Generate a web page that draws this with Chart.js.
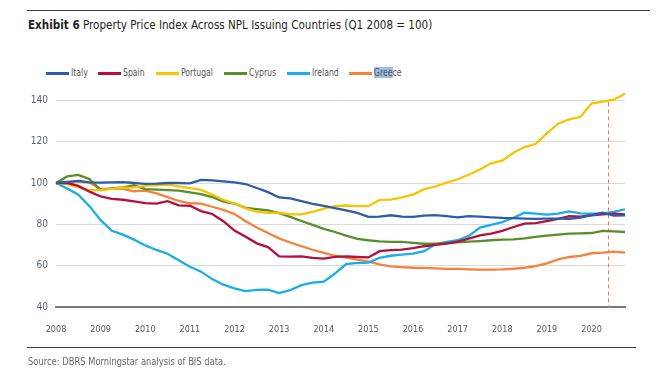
<!DOCTYPE html>
<html><head><meta charset="utf-8">
<script src="https://cdn.jsdelivr.net/npm/chart.js@4.4.1/dist/chart.umd.min.js"></script>
<style>
html,body{margin:0;padding:0;background:#fff;}
body{width:662px;height:382px;position:relative;overflow:hidden;font-family:"Liberation Sans Narrow","DejaVu Sans Condensed","Arial Narrow",sans-serif;}
.rule{position:absolute;height:0;border-top:1.5px solid #3a3a3a;}
#title{position:absolute;left:28px;top:17px;font-size:13px;color:#231f20;white-space:nowrap;transform:scaleX(0.89);transform-origin:0 50%;}
#title b{font-weight:bold;}
#legend{position:absolute;left:0;top:66px;width:662px;height:14px;font-size:10px;color:#555;white-space:nowrap;}
.item{position:absolute;top:0;height:14px;}
.swatch{position:absolute;left:0;top:6px;width:23px;height:2.5px;}
.ltxt{position:absolute;left:25px;top:0;line-height:14px;transform:scaleX(0.86);transform-origin:0 50%;}
.hl{background:#9dbde3;}
#source{position:absolute;left:28px;top:356px;font-size:10px;color:#666;white-space:nowrap;transform:scaleX(0.93);transform-origin:0 50%;}
#wrap{position:absolute;left:0;top:0;width:662px;height:382px;}
</style></head>
<body>
<div class="rule" style="left:27px;width:623px;top:10px;"></div>
<div id="title"><b>Exhibit 6</b> Property Price Index Across NPL Issuing Countries (Q1 2008 = 100)</div>
<div id="legend"></div>
<div id="wrap"><canvas id="c" width="662" height="382"></canvas></div>
<div class="rule" style="left:27px;width:609px;top:347px;"></div>
<div id="source">Source: DBRS Morningstar analysis of BIS data.</div>
<script>
// ---- data ----
const years = [2008,2009,2010,2011,2012,2013,2014,2015,2016,2017,2018,2019,2020];
const quarters = [];
years.forEach(y => ['Q1','Q2','Q3','Q4'].forEach(q => quarters.push(y + q)));

const seriesNames = ['Italy','Spain','Portugal','Cyprus','Ireland','Greece'];
const seriesColors = ['#2f5ba8','#b3103f','#f6c500','#5a8c2b','#19ade9','#f5823a'];

const italy = [100,100.5,101,100.3,100.2,100.3,100.4,100,99.6,99.7,100,100,99.8,101.5,101.3,100.8,
  100.3,99.5,97.6,95.6,93,92.6,91.2,89.9,88.9,87.9,86.8,85.5,83.6,83.7,84.4,83.7,
  83.6,84.2,84.5,84,83.4,84,83.7,83.4,83.1,83,82.8,82.6,82.8,82.8,82.7,83.2,84.5,85.6,84.2,84.3];
const spain = [100,100,98.6,95.8,93.5,92.3,91.9,91.1,90.3,90,91.2,89.2,89,86.4,85,81.5,
  77,74,70.8,69,64.5,64.4,64.5,63.8,63.4,64.3,64.5,64.2,64,67,67.5,67.8,
  68.5,69.4,70.1,70.7,71.6,73.1,74.7,75.5,76.8,78.7,80.3,80.6,81.6,82.7,84,83.7,84.4,84.8,85.2,84.8];
const portugal = [100,99.5,97.9,96.6,96.6,97.2,97.7,97.9,98.6,99,99.2,98.4,97.5,96.7,94.4,91.8,
  90.1,87.7,86.2,85.5,85.6,84.8,84.8,86,87.6,88.8,89.1,88.8,88.8,91.8,92,93,
  94.4,97,98.3,100.2,101.8,104,106.5,109.5,110.8,114.6,117.4,119,124,128.7,130.8,131.9,138.4,139.4,140.3,143.2];
const cyprus = [100,103.2,103.9,101.9,96.6,97.4,97.9,98.9,97,96.8,96.6,96.3,95.5,94.6,93.2,91,
  90,88,87.4,86.8,85.4,83.6,81.6,79.7,77.8,76.3,74.5,73,72.3,71.8,71.5,71.5,
  71,70.6,70.6,70.9,71.3,71.6,71.9,72.3,72.6,72.7,73.2,73.9,74.5,75,75.5,75.6,75.8,76.8,76.6,76.3];
const ireland = [100,97.3,94.3,88.8,82,76.9,75,72.6,69.8,67.6,65.8,62.6,59.5,57.1,53.5,50.8,
  49,47.7,48.3,48.4,46.7,48.2,50.6,51.8,52.3,56.2,60.7,61.3,61.5,63.8,64.8,65.3,
  65.8,67,70.3,71.5,72.3,74.4,78.4,79.7,81.1,83.2,85.6,85.2,84.7,85.2,86.3,85.3,85.2,85.2,86,87.3];
const greece = [100,100.3,100.8,100.2,97,97.3,97.2,96,96.3,95,93.2,91.3,90.2,90,88.5,87,
  85,81.5,78.5,75.8,73.2,71.2,69.4,67.7,66.2,64.8,63.9,62.9,61.9,60.6,59.7,59.3,
  59,58.9,58.7,58.4,58.4,58.2,58.1,58.1,58.2,58.5,59,59.8,61.1,63,64.2,64.7,66,66.3,66.8,66.3];
const seriesValues = [italy, spain, portugal, cyprus, ireland, greece];

const yTicks = [40,60,80,100,120,140];
const markerQuarter = [49.5];      // dashed marker position (quarter index)
const markerRange = [40, 139];     // dashed marker value span

// ---- legend (HTML) ----
const legendX = [46, 98, 156, 224, 287, 349];
const legend = document.getElementById('legend');
seriesNames.forEach((n,i) => {
  const it = document.createElement('div'); it.className = 'item'; it.style.left = legendX[i] + 'px';
  const sw = document.createElement('div'); sw.className = 'swatch'; sw.style.background = seriesColors[i];
  const tx = document.createElement('span'); tx.className = 'ltxt';
  if (n === 'Greece') tx.innerHTML = '<span class="hl">Gree</span>ce'; else tx.textContent = n;
  it.appendChild(sw); it.appendChild(tx); legend.appendChild(it);
});

const FONT = '"Liberation Sans Narrow","DejaVu Sans Condensed","Arial Narrow",sans-serif';

const markerPlugin = {
  id: 'marker',
  beforeDatasetsDraw(chart) {
    const {ctx, scales:{x, y}} = chart;
    ctx.save();
    ctx.strokeStyle = '#f07c45';
    ctx.lineWidth = 1;
    ctx.setLineDash([4,3]);
    markerQuarter.forEach(q => {
      const px = Math.round(x.getPixelForValue(q)) + 0.5;
      ctx.beginPath();
      ctx.moveTo(px, y.getPixelForValue(markerRange[1]));
      ctx.lineTo(px, y.getPixelForValue(markerRange[0]));
      ctx.stroke();
    });
    ctx.restore();
  }
};

new Chart(document.getElementById('c'), {
  type: 'line',
  data: {
    labels: quarters,
    datasets: seriesNames.map((n,i) => ({
      label: n, data: seriesValues[i], borderColor: seriesColors[i], backgroundColor: seriesColors[i],
      borderWidth: 2.3, pointRadius: 0, tension: 0, fill: false
    }))
  },
  options: {
    responsive: false, animation: false, devicePixelRatio: 1,
    layout: { padding: { top: 90, right: 37, bottom: 0, left: 0 } },
    plugins: { legend: { display: false }, tooltip: { enabled: false }, title: { display: false } },
    scales: {
      x: {
        type: 'category', offset: false,
        grid: { display: false },
        border: { display: true, color: '#7a7a7a', width: 2 },
        ticks: {
          autoSkip: false, maxRotation: 0, minRotation: 0, padding: 9,
          color: '#555', font: { family: FONT, size: 9 },
          callback: (v, i) => quarters[i].endsWith('Q1') ? quarters[i].slice(0,4) : ''
        },
        afterFit: s => { s.height = 75; }
      },
      y: {
        min: 40, max: 145,
        afterBuildTicks: s => { s.ticks = yTicks.map(v => ({ value: v })); },
        grid: { color: c => c.tick && c.tick.value === 40 ? 'rgba(0,0,0,0)' : '#dadada', lineWidth: 1, drawTicks: false },
        border: { display: false },
        ticks: { padding: 8, color: '#56627f', font: { family: FONT, size: 10 } },
        afterFit: s => { s.width = 56; }
      }
    }
  },
  plugins: [markerPlugin]
});
</script>
</body></html>
